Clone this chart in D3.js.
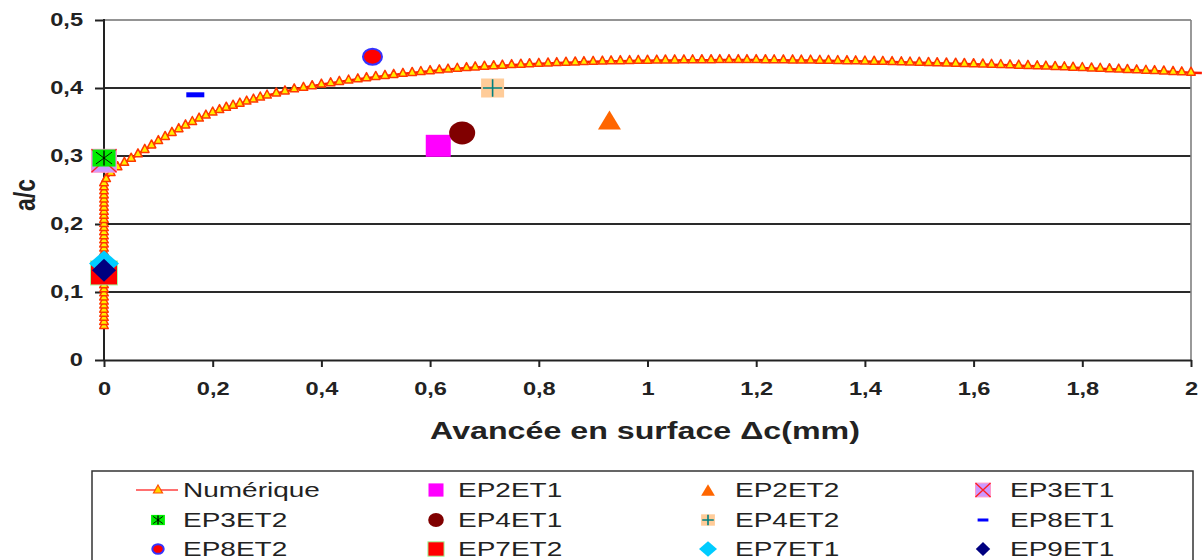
<!DOCTYPE html>
<html><head><meta charset="utf-8">
<script src="https://cdn.jsdelivr.net/npm/d3@7"></script>
<style>
html,body{margin:0;padding:0;background:#fff;}
svg{display:block;font-family:"Liberation Sans",Arial,sans-serif;}
</style></head>
<body>
<svg id="chart" width="1203" height="560"></svg>
<script>
// ---------- DATA ----------
const yTicks = [0, 0.1, 0.2, 0.3, 0.4, 0.5];
const yTickLabels = ["0", "0,1", "0,2", "0,3", "0,4", "0,5"];
const xTicks = [0, 0.2, 0.4, 0.6, 0.8, 1, 1.2, 1.4, 1.6, 1.8, 2];
const xTickLabels = ["0", "0,2", "0,4", "0,6", "0,8", "1", "1,2", "1,4", "1,6", "1,8", "2"];

const numName = "Numérique";
const numX = [
  0,0,0,0,0,0,0,0,0,0,0,0,0,0,0,0,0,0,
  0,0,0,0,0,0,0,0,0,0,0,0,0,0,0,0,0,0,
  0.004,0.0125,0.025,0.0375,0.05,0.0625,0.075,0.0875,0.1,0.1125,0.125,0.1375,
  0.15,0.1625,0.175,0.1875,0.2,0.2125,0.225,0.2375,0.25,0.2625,0.275,0.2875,
  0.3,0.317,0.333, 0.35,0.367,0.383, 0.4,0.417,0.433, 0.45,0.467,0.483,
  0.5,0.517,0.533, 0.55,0.567,0.583, 0.6,0.617,0.633, 0.65,0.667,0.683,
  0.7,0.717,0.733, 0.75,0.767,0.783, 0.8,0.817,0.833, 0.85,0.867,0.883,
  0.9,0.917,0.933, 0.95,0.967,0.983, 1.0,1.017,1.033, 1.05,1.067,1.083,
  1.1,1.117,1.133, 1.15,1.167,1.183, 1.2,1.217,1.233, 1.25,1.267,1.283,
  1.3,1.317,1.333, 1.35,1.367,1.383, 1.4,1.417,1.433, 1.45,1.467,1.483,
  1.5,1.517,1.533, 1.55,1.567,1.583, 1.6,1.617,1.633, 1.65,1.667,1.683,
  1.7,1.717,1.733, 1.75,1.767,1.783, 1.8,1.817,1.833, 1.85,1.867,1.883,
  1.9,1.917,1.933, 1.95,1.967,1.983, 2.0
];
const numY = [
  0.05,0.056,0.062,0.068,0.074,0.08,0.086,0.092,0.098,0.104,0.11,0.116,0.122,0.128,0.134,0.14,0.146,0.152,
  0.158,0.164,0.17,0.176,0.182,0.188,0.194,0.2,0.206,0.212,0.218,0.224,0.23,0.236,0.242,0.248,0.254,0.26,
  0.266,0.275,0.2835,0.29,0.296,0.3025,0.309,0.3155,0.322,0.328,0.334,0.3395,
  0.345,0.35,0.355,0.3595,0.364,0.3675,0.371,0.374,0.377,0.38,0.383,0.386,
  0.389,0.392,0.395, 0.398,0.4003,0.4027, 0.405,0.407,0.409, 0.411,0.4128,0.4145,
  0.4163,0.4178,0.4193, 0.4208,0.4221,0.4235, 0.4248,0.426,0.4271, 0.4283,0.4293,0.4303,
  0.4313,0.4321,0.4329, 0.4337,0.4343,0.435, 0.4356,0.4361,0.4367, 0.4372,0.4376,0.4381,
  0.4385,0.4388,0.4392, 0.4395,0.4397,0.44, 0.4402,0.4403,0.4405, 0.4406,0.4407,0.4408,
  0.4409,0.4409,0.441, 0.441,0.441,0.441, 0.441,0.4409,0.4408, 0.4407,0.4406,0.4404,
  0.4403,0.4401,0.4399, 0.4397,0.4395,0.4392, 0.439,0.4387,0.4385, 0.4382,0.4379,0.4375,
  0.4372,0.4368,0.4365, 0.4361,0.4357,0.4354, 0.435,0.4346,0.4342, 0.4338,0.4334,0.4329,
  0.4325,0.432,0.4315, 0.431,0.4305,0.4299, 0.4294,0.4288,0.4283, 0.4277,0.4271,0.4266,
  0.426,0.4254,0.4249, 0.4243,0.4237,0.4231, 0.4225
];

const obsNames = ["EP2ET1","EP2ET2","EP3ET1","EP3ET2","EP4ET1","EP4ET2","EP8ET1","EP8ET2","EP7ET2","EP7ET1","EP9ET1"];
const obsX     = [0.615,   0.93,    0.0,     0.0,     0.659,   0.715,   0.168,   0.494,   0.0,     0.0,     0.0];
const obsY     = [0.315,   0.353,   0.293,   0.297,   0.334,   0.40,    0.39,    0.446,   0.128,   0.142,   0.132];

const xTitle = "Avancée en surface \u0394c(mm)";
const yTitle = "a/c";

// ---------- STYLES ----------
const markerStyle = {
  EP2ET1: {shape:"rect", w:25, h:22, fill:"#FF00FF"},
  EP2ET2: {shape:"tri", w:23, h:19, fill:"#FF6600"},
  EP3ET1: {shape:"rectX", w:25, h:23, fill:"#CC99FF", stroke:"#FF99CC", mark:"#FF2020"},
  EP3ET2: {shape:"rectStar", w:23, h:17, fill:"#00EE00", mark:"#000000"},
  EP4ET1: {shape:"ell", w:26, h:23, fill:"#800000"},
  EP4ET2: {shape:"rectPlus", w:23, h:19, fill:"#FFCC99", mark:"#008080"},
  EP8ET1: {shape:"rect", w:18, h:5, fill:"#0000FF"},
  EP8ET2: {shape:"ell", w:19, h:16, fill:"#FF0000", stroke:"#3333FF", sw:2},
  EP7ET2: {shape:"rect", w:27, h:24, fill:"#FF0000", stroke:"#A0FFA0", sw:1},
  EP7ET1: {shape:"dia", w:30, h:26, fill:"#00CCFF"},
  EP9ET1: {shape:"dia", w:24, h:23, fill:"#000080"}
};

// ---------- LAYOUT ----------
const svg = d3.select("#chart");
const X0 = 104, X1 = 1191, Y0 = 360, Y1 = 20;
const x = d3.scaleLinear().domain([0, 2]).range([X0, X1]);
const y = d3.scaleLinear().domain([0, 0.5]).range([Y0, Y1]);
const STRETCH = 1.35;

svg.append("rect").attr("width",1203).attr("height",560).attr("fill","#fff");

// gridlines
svg.append("g").selectAll("line").data(yTicks.filter(v => v > 0)).join("line")
  .attr("x1", X0).attr("x2", X1)
  .attr("y1", d => y(d)).attr("y2", d => y(d))
  .attr("stroke", d => d === 0.5 ? "#707070" : "#2a2a2a")
  .attr("stroke-width", d => d === 0.5 ? 1.5 : 1.8);
// right border
svg.append("line").attr("x1", X1).attr("x2", X1).attr("y1", Y1).attr("y2", Y0)
  .attr("stroke", "#808080").attr("stroke-width", 1.6);

// axes
const yAxis = svg.append("g").attr("transform", `translate(${X0},0)`)
  .call(d3.axisLeft(y).tickValues(yTicks).tickFormat((d,i) => yTickLabels[i]).tickSize(9).tickPadding(12).tickSizeOuter(0));
const xAxis = svg.append("g").attr("transform", `translate(0,${Y0})`)
  .call(d3.axisBottom(x).tickValues(xTicks).tickFormat((d,i) => xTickLabels[i]).tickSize(7).tickPadding(16).tickSizeOuter(0));
[yAxis, xAxis].forEach(a => {
  a.select(".domain").attr("stroke", "#222").attr("stroke-width", 2);
  a.selectAll(".tick line").attr("stroke", "#222").attr("stroke-width", 2);
  a.selectAll("text").attr("font-family", "Liberation Sans, Arial, sans-serif")
    .attr("font-size", 17.5).attr("font-weight", "bold").attr("fill", "#222");
});
yAxis.select(".domain").attr("d", `M0,${Y1 - 1}V${Y0}`);
yAxis.selectAll(".tick text").each(function() {
  const tx = +d3.select(this).attr("x");
  d3.select(this).attr("transform", `translate(${tx},0) scale(${STRETCH},1) translate(${-tx},0)`);
});
xAxis.selectAll(".tick text").attr("transform", `scale(${STRETCH},1)`);

// axis titles
svg.append("text").attr("x", 0).attr("y", 0)
  .attr("transform", `translate(35,195) rotate(-90) scale(1,1.25)`)
  .attr("text-anchor", "middle").attr("font-size", 23).attr("font-weight", "bold").attr("fill", "#222")
  .text(yTitle);
svg.append("text").attr("x", 0).attr("y", 0)
  .attr("transform", `translate(645,439) scale(1.4,1)`)
  .attr("text-anchor", "middle").attr("font-size", 23).attr("font-weight", "bold").attr("fill", "#222")
  .text(xTitle);

// ---------- NUMERIQUE CURVE ----------
const nPts = Math.min(numX.length, numY.length);
const numData = d3.range(nPts).map(i => [numX[i], numY[i]]);
const triPath = (w, h) => `M0,${-h/2}L${w/2},${h/2}L${-w/2},${h/2}Z`;

svg.append("path").datum(numData.concat([[2.02, 0.4219]]))
  .attr("d", d3.line().x(d => x(d[0])).y(d => y(d[1])))
  .attr("fill", "none").attr("stroke", "#FF1A00").attr("stroke-width", 2.5);
svg.append("g").selectAll("path").data(numData).join("path")
  .attr("d", triPath(8.5, 8))
  .attr("transform", d => `translate(${x(d[0])},${y(d[1]) - 1.5})`)
  .attr("fill", "#FFEE00").attr("stroke", "#FF3800").attr("stroke-width", 1.5)
  .attr("stroke-linejoin", "round");

// ---------- MARKERS ----------
function drawMarker(g, name, cx, cy, s) {
  const st = markerStyle[name];
  const w = st.w * s, h = st.h * s;
  const m = g.append("g").attr("transform", `translate(${cx},${cy})`);
  if (st.shape.startsWith("rect")) {
    m.append("rect").attr("x", -w/2).attr("y", -h/2).attr("width", w).attr("height", h)
      .attr("fill", st.fill).attr("stroke", st.stroke || "none").attr("stroke-width", st.sw || 1);
    const iw = w * 0.42, ih = h * 0.42;
    if (st.shape === "rectX" || st.shape === "rectStar") {
      m.append("path").attr("d", `M${-w/2},${-h/2}L${w/2},${h/2}M${w/2},${-h/2}L${-w/2},${h/2}`)
        .attr("stroke", st.mark).attr("stroke-width", st.shape === "rectX" ? 1.4 : 1.3)
        .attr("transform", st.shape === "rectStar" ? "scale(0.7)" : null);
    }
    if (st.shape === "rectStar") {
      m.append("path").attr("d", `M0,${-ih*1.05}V${ih*1.05}`).attr("stroke", st.mark).attr("stroke-width", 1.3);
    }
    if (st.shape === "rectPlus") {
      m.append("path").attr("d", `M${-iw},0H${iw}M0,${-ih*1.1}V${ih*1.1}`).attr("stroke", st.mark).attr("stroke-width", 1.6);
    }
  } else if (st.shape === "tri") {
    m.append("path").attr("d", triPath(w, h)).attr("fill", st.fill);
  } else if (st.shape === "ell") {
    m.append("ellipse").attr("rx", w/2).attr("ry", h/2).attr("fill", st.fill)
      .attr("stroke", st.stroke || "none").attr("stroke-width", st.sw || 1);
  } else if (st.shape === "dia") {
    m.append("path").attr("d", `M0,${-h/2}L${w/2},0L0,${h/2}L${-w/2},0Z`).attr("fill", st.fill);
  }
}
const mg = svg.append("g");
obsNames.forEach((n, i) => drawMarker(mg, n, x(obsX[i]), y(obsY[i]), 1));

// ---------- LEGEND ----------
const legItems = [numName].concat(obsNames);
const lg = svg.append("g");
lg.append("rect").attr("x", 92).attr("y", 471).attr("width", 1101).attr("height", 110)
  .attr("fill", "#fff").attr("stroke", "#333").attr("stroke-width", 1.5);
const colMarker = [158, 436, 708, 983];
const colText = [183, 458, 735, 1010];
const rowMid = [490, 520, 549];
legItems.forEach((n, i) => {
  const r = Math.floor(i / 4), c = i % 4;
  const cy = rowMid[r];
  if (n === numName) {
    lg.append("line").attr("x1", colMarker[c] - 22).attr("x2", colMarker[c] + 20)
      .attr("y1", cy).attr("y2", cy).attr("stroke", "#FF4040").attr("stroke-width", 1.6);
    lg.append("path").attr("d", triPath(9, 8)).attr("transform", `translate(${colMarker[c]},${cy - 1})`)
      .attr("fill", "#FFD700").attr("stroke", "#FF5000").attr("stroke-width", 1.2);
  } else {
    drawMarker(lg, n, colMarker[c], cy, 0.6);
  }
  lg.append("text").attr("x", 0).attr("y", 0)
    .attr("transform", `translate(${colText[c]},${cy + 7}) scale(1.4,1)`)
    .attr("font-size", 20).attr("fill", "#222").text(n);
});
</script>
</body></html>
